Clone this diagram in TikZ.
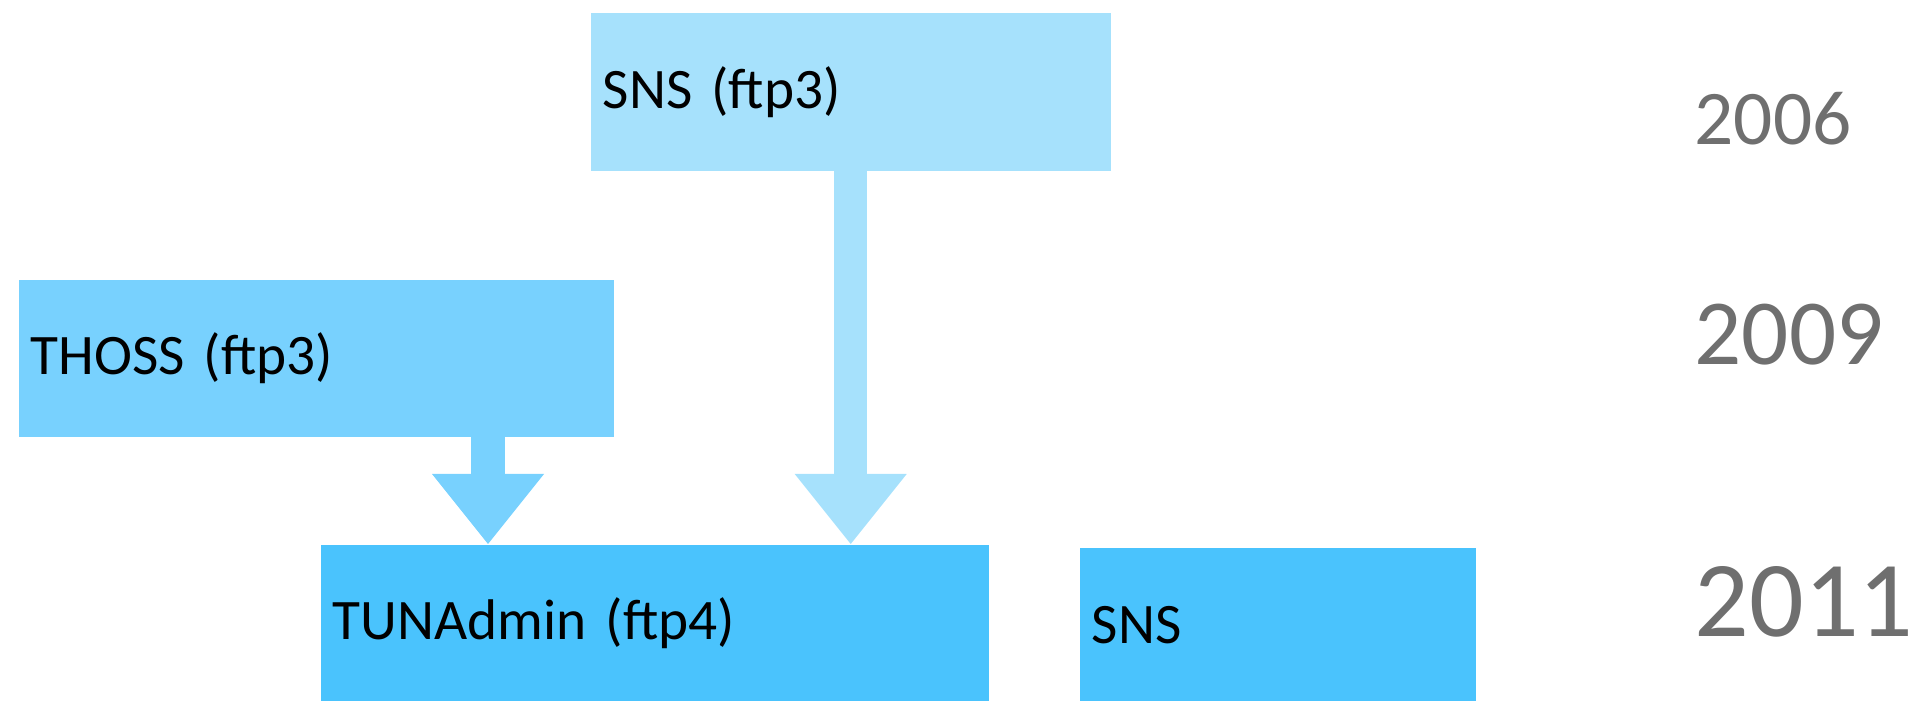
\documentclass[tikz,border=0pt]{standalone}
\usepackage{fontspec}
\setmainfont{Carlito}
\usetikzlibrary{arrows.meta,calc}
\definecolor{cA}{HTML}{A6E1FC}
\definecolor{cB}{HTML}{78D1FE}
\definecolor{cC}{HTML}{4AC3FD}
\definecolor{yeargray}{HTML}{6F6F6F}
\tikzset{
  box/.style n args={3}{draw=none, fill=#1, anchor=north west, inner xsep=0.12cm, inner ysep=0pt,
    minimum width=#2, minimum height=#3, text width=#2-0.24cm, align=left,
    font=\fontsize{16.3}{19}\selectfont},
  blockarrow/.style n args={2}{draw=#1, line width=#2, -{Triangle[width=1.12cm,length=0.70cm,line width=0pt,fill=#1]}},
  year/.style={anchor=base west, inner sep=0pt, text=yeargray}
}
\begin{document}
\begin{tikzpicture}
\useasboundingbox (0,0) rectangle (19.27,7.01);
\node[box={cA}{5.20cm}{1.58cm}] (sns3) at (5.90,6.89) {SNS (ftp3)};
\node[box={cB}{5.95cm}{1.57cm}] (thoss) at (0.18,4.22) {THOSS (ftp3)};
\node[box={cC}{6.68cm}{1.57cm}] (tun) at (3.20,1.57) {TUNAdmin (ftp4)};
\node[box={cC}{3.96cm}{1.54cm}] (sns) at (10.79,1.54) {SNS};
\coordinate (a2top) at ($(thoss.south west)+(4.70,0)$);
\draw[blockarrow={cA}{0.33cm}] (sns3.south) -- (sns3.south |- tun.north);
\draw[blockarrow={cB}{0.34cm}] (a2top) -- (a2top |- tun.north);
\node[year, font=\fontsize{22}{26}\selectfont] (y1) at (16.94,5.56) {2006};
\node[year, font=\fontsize{26.5}{31}\selectfont] (y2) at (16.94,3.36) {2009};
\node[year, font=\fontsize{30.7}{36}\selectfont] (y3) at (16.94,0.64) {2011};
\end{tikzpicture}
\end{document}
